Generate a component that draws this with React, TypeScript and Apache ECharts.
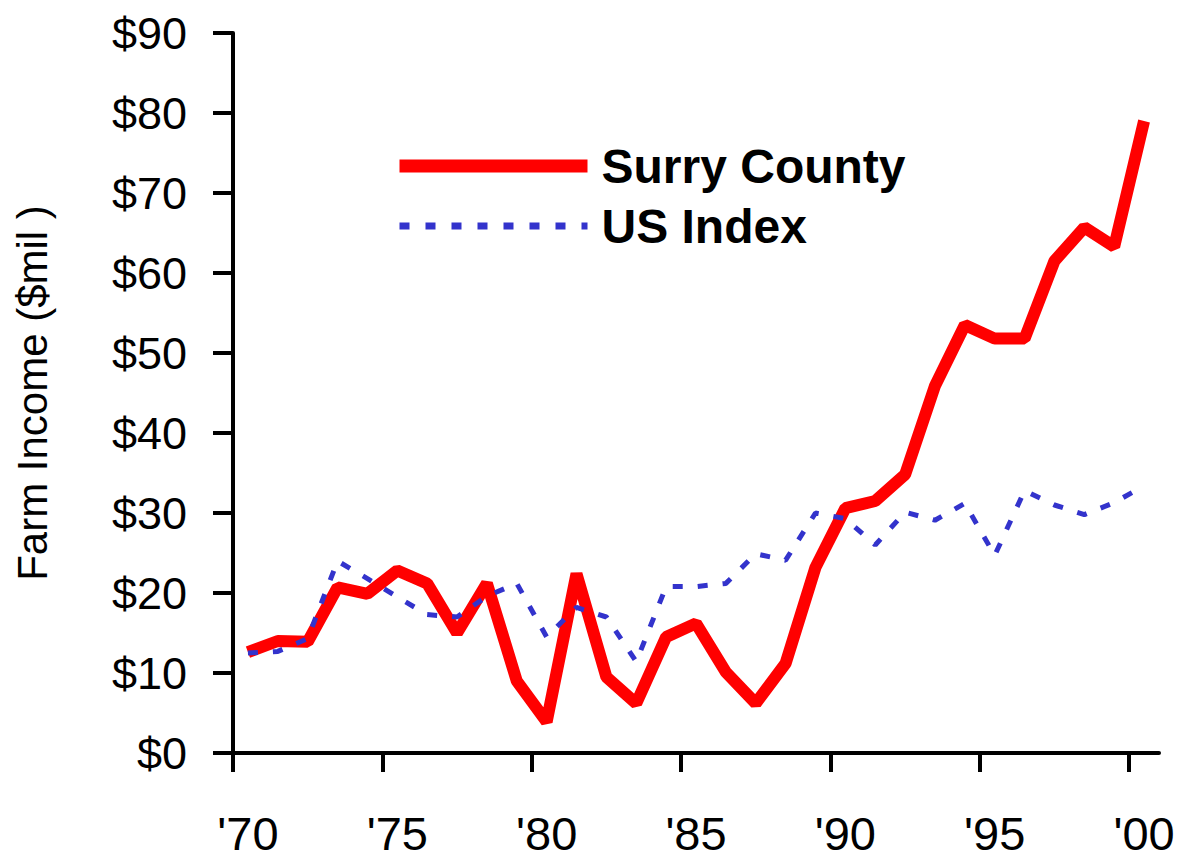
import React, { useEffect, useRef } from "react";
import * as echarts from "echarts";

const years = [
  1970, 1971, 1972, 1973, 1974, 1975, 1976, 1977, 1978, 1979,
  1980, 1981, 1982, 1983, 1984, 1985, 1986, 1987, 1988, 1989,
  1990, 1991, 1992, 1993, 1994, 1995, 1996, 1997, 1998, 1999, 2000,
];

const surryCounty = [
  12.6, 14.0, 13.9, 20.7, 19.9, 22.8, 21.2, 15.0, 21.2, 9.0,
  3.9, 22.4, 9.5, 6.2, 14.5, 16.2, 10.1, 6.2, 11.2, 23.2,
  30.6, 31.5, 34.8, 45.9, 53.5, 51.8, 51.8, 61.5, 65.7, 63.3, 79.0,
];

const usIndex = [
  12.5, 12.7, 14.3, 24.0, 21.8, 19.5, 17.3, 17.0, 19.6, 21.2,
  14.5, 18.2, 17.0, 11.4, 20.8, 20.8, 21.2, 24.9, 24.1, 30.0,
  29.3, 26.0, 30.1, 29.1, 31.2, 24.7, 32.8, 31.0, 29.8, 31.3, 33.4,
];

const labelYears = [1970, 1975, 1980, 1985, 1990, 1995, 2000];

const seriesNames = ["Surry County", "US Index"];

const yMin = 0;
const yMax = 90;
const yStep = 10;

const REGULAR = "'Liberation Sans', Arial, sans-serif";

export default function App() {
  const ref = useRef<HTMLDivElement>(null);

  useEffect(() => {
    if (!ref.current) return;
    const chart = echarts.init(ref.current, null, { renderer: "svg" });
    chart.setOption({
      animation: false,
      backgroundColor: "#ffffff",
      grid: {
        left: 233,
        right: 19,
        top: 33,
        bottom: 108,
        containLabel: false,
        outerBoundsMode: "none",
      },
      legend: {
        show: true,
        orient: "vertical",
        left: 388,
        top: 136,
        itemWidth: 188,
        itemHeight: 13,
        itemGap: 10,
        selectedMode: false,
        textStyle: {
          fontSize: 48,
          fontWeight: "bold",
          fontFamily: REGULAR,
          color: "#000",
          lineHeight: 50,
          padding: [0, 0, 0, 9],
        },
        data: [
          { name: seriesNames[0], lineStyle: { width: 13 }, itemStyle: { opacity: 0 } },
          { name: seriesNames[1], lineStyle: { width: 7, type: [10, 16] }, itemStyle: { opacity: 0 } },
        ],
      },
      xAxis: {
        type: "value",
        min: years[0] - 0.5,
        max: years[years.length - 1] + 0.5,
        splitLine: { show: false },
        axisLine: { show: true, onZero: false, lineStyle: { color: "#000", width: 4 } },
        axisTick: {
          show: true,
          length: 19,
          lineStyle: { color: "#000", width: 4 },
          customValues: labelYears.map((y) => y - 0.5),
        },
        axisLabel: {
          customValues: labelYears,
          formatter: (v: number) => "'" + String(Math.round(v)).slice(2),
          fontSize: 47,
          lineHeight: 47,
          fontFamily: REGULAR,
          color: "#000",
          margin: 57,
        },
      },
      yAxis: {
        type: "value",
        min: yMin,
        max: yMax,
        interval: yStep,
        splitLine: { show: false },
        axisLine: { show: true, onZero: false, lineStyle: { color: "#000", width: 4 } },
        axisTick: { show: true, length: 20, lineStyle: { color: "#000", width: 4 } },
        axisLabel: {
          formatter: (v: number) => "$" + v,
          fontSize: 45,
          fontFamily: REGULAR,
          color: "#000",
          margin: 46,
        },
        name: "Farm Income ($mil )",
        nameLocation: "middle",
        nameRotate: 90,
        nameGap: 180,
        nameTextStyle: { fontSize: 42, fontFamily: REGULAR, color: "#000" },
      },
      series: [
        {
          name: seriesNames[0],
          type: "line",
          data: years.map((y, i) => [y, surryCounty[i]]),
          symbol: "none",
          lineStyle: { color: "#ff0000", width: 12 },
          itemStyle: { color: "#ff0000" },
          z: 2,
        },
        {
          name: seriesNames[1],
          type: "line",
          data: years.map((y, i) => [y, usIndex[i]]),
          symbol: "none",
          lineStyle: { color: "#3333cc", width: 5, type: [10, 15] },
          itemStyle: { color: "#3333cc" },
          z: 3,
        },
      ],
    });
    return () => chart.dispose();
  }, []);

  return (
    <div
      ref={ref}
      style={{ position: "absolute", left: 0, top: 0, width: 1178, height: 861, background: "#fff" }}
    />
  );
}
